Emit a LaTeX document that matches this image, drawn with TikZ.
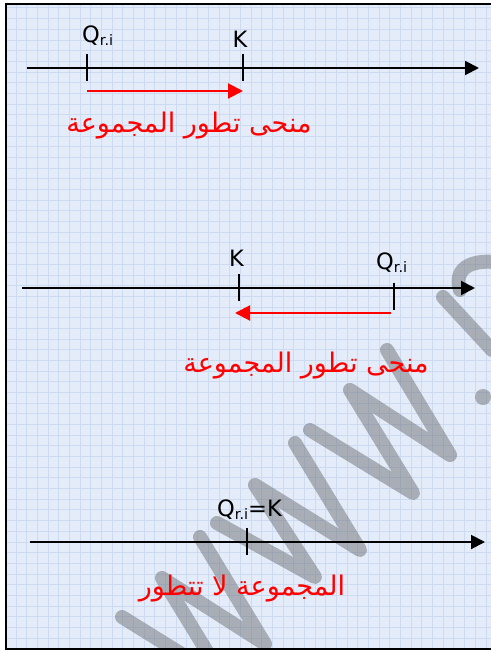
\documentclass[tikz,border=0pt]{standalone}
\usepackage{fontspec}
\setmainfont{DejaVu Sans}
\newfontfamily\arabicfont[Script=Arabic]{DejaVu Sans}
\TeXXeTstate=1
\usetikzlibrary{arrows.meta,positioning}
\definecolor{paperbg}{RGB}{227,236,248}
\definecolor{paperline}{RGB}{204,219,242}
\definecolor{wmgray}{RGB}{110,112,118}
\definecolor{evolred}{RGB}{255,0,0}
\newcommand{\qri}{Q\raisebox{-3pt}{\fontsize{14.5}{15}\selectfont r.i}}

\begin{document}
\begin{tikzpicture}[x=1pt,y=-1pt,
  axis/.style={line width=2pt,-{Triangle[length=14pt,width=14pt]}},
  tickmark/.style={line width=2pt},
  evol/.style={evolred,line width=2pt,-{Triangle[length=15pt,width=15pt]}},
  lab/.style={inner sep=0pt,font=\fontsize{22.5}{24}\selectfont},
  redtxt/.style={inner sep=0pt,evolred,font=\fontsize{27}{29}\selectfont\arabicfont},
  wm/.style={wmgray,opacity=0.5,line width=14pt,line cap=round,line join=round}]
\useasboundingbox (0,0) rectangle (490,650);
\fill[white] (0,0) rectangle (490,650);
\fill[paperbg] (6,4) rectangle (492,649);
% squared paper
\foreach \i in {0,...,45}{\draw[paperline,line width=0.8pt] ({5.3+\i*10.68},4) -- ({5.3+\i*10.68},649);}
\foreach \j in {0,...,60}{\draw[paperline,line width=0.8pt] (6,{7.9+\j*10.68}) -- (492,{7.9+\j*10.68});}
% watermark
\begin{scope}
\clip (6,4) rectangle (492,649);
\draw[wm] (387,350) -- (450,455) -- (350,390) -- (413,493) -- (310,430);
\draw[wm] (295,443) -- (360,550) -- (255,485) -- (315,577) -- (217,523);
\draw[wm] (200,537) -- (265,644) -- (162,578) -- (225,681) -- (122,617);
\fill[wmgray,opacity=0.5] (483,397) circle (8pt);
\draw[wm] (443,297) -- (492,350);
\draw[wm] (460,290) .. controls (453,268) and (472,260) .. (494,262);
\end{scope}
\draw[line width=2pt] (492,4.3) -- (6,4.3) -- (6,649) -- (492,649);

% K > Q : evolution to the right
\coordinate (a1s) at (27,68);
\coordinate (a1e) at (479,68);
\coordinate (q1) at (87,68);
\coordinate (k1) at (243,68);
\draw[axis] (a1s) -- (a1e);
\draw[tickmark] (q1) ++(0,-14) -- ++(0,27);
\draw[tickmark] (k1) ++(0,-14) -- ++(0,27);
\node[lab,anchor=base west] (lq1) at (82,43) {\qri};
\node[lab,anchor=base] (lk1) at (240,48) {K};
\coordinate (r1s) at (87,91);
\coordinate (r1e) at (243,91);
\draw[evol] (r1s) -- (r1e);
\node[redtxt,anchor=base] (t1) at (189,132) {\beginR منحى تطور المجموعة\endR};

% K < Q : evolution to the left
\coordinate (a2s) at (22,288);
\coordinate (a2e) at (475,288);
\coordinate (k2) at (239,288);
\coordinate (q2) at (393.5,288);
\draw[axis] (a2s) -- (a2e);
\draw[tickmark] (k2) ++(0,-14) -- ++(0,27);
\draw[tickmark] (q2) ++(0,-5.5) -- ++(0,27);
\node[lab,anchor=base] (lk2) at (236.5,266.5) {K};
\node[lab,anchor=base west] (lq2) at (376,269) {\qri};
\coordinate (r2s) at (391,313);
\coordinate (r2e) at (235,313);
\draw[evol] (r2s) -- (r2e);
\node[redtxt,anchor=base] (t2) at (306,372) {\beginR منحى تطور المجموعة\endR};

% K = Q : no evolution
\coordinate (a3s) at (30,542);
\coordinate (a3e) at (485,542);
\coordinate (qk3) at (247,542);
\draw[axis] (a3s) -- (a3e);
\draw[tickmark] (qk3) ++(0,-14) -- ++(0,27);
\node[lab,anchor=base west] (lqk3) at (217,516.5) {\qri=K};
\node[redtxt,anchor=base] (t3) at (242,595) {\beginR المجموعة لا تتطور\endR};
\end{tikzpicture}
\end{document}
